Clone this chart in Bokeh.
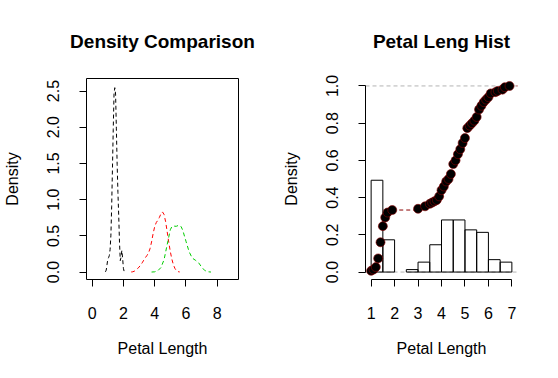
import math
from bokeh.plotting import figure
from bokeh.layouts import row
from bokeh.models import Range1d, FixedTicker, Span
from bokeh.embed import file_html
from bokeh.resources import INLINE

FONT = "Liberation Sans"

# ---- Left panel: density curves of Petal Length by species
setosa_x = [0.85, 0.90, 0.95, 1.00, 1.05, 1.10, 1.15, 1.20, 1.25, 1.30, 1.35, 1.40, 1.45,
            1.50, 1.55, 1.60, 1.65, 1.70, 1.75, 1.80, 1.85, 1.90, 1.95, 2.00, 2.05]
setosa_y = [0.003, 0.026, 0.099, 0.175, 0.199, 0.228, 0.313, 0.509, 0.909, 1.436, 1.971, 2.458, 2.546,
            2.458, 1.977, 1.488, 1.098, 0.780, 0.412, 0.158, 0.205, 0.298, 0.193, 0.052, 0.006]

versicolor_x = [2.5, 2.6, 2.7, 2.8, 2.9, 3.0, 3.1, 3.2, 3.3, 3.4, 3.5, 3.6, 3.7, 3.8, 3.9, 4.0,
                4.1, 4.2, 4.3, 4.4, 4.5, 4.6, 4.7, 4.8, 4.9, 5.0, 5.1, 5.2, 5.3, 5.4, 5.5, 5.6]
versicolor_y = [0.001, 0.004, 0.012, 0.026, 0.046, 0.069, 0.095, 0.127, 0.164, 0.198, 0.227, 0.262,
                0.321, 0.416, 0.531, 0.627, 0.683, 0.715, 0.754, 0.804, 0.830, 0.795, 0.695, 0.556,
                0.411, 0.282, 0.177, 0.099, 0.047, 0.018, 0.006, 0.001]

virginica_x = [3.8, 4.0, 4.2, 4.4, 4.6, 4.8, 5.0, 5.1, 5.2, 5.3, 5.4, 5.5, 5.6, 5.7, 5.8,
               6.0, 6.2, 6.4, 6.6, 6.8, 7.0, 7.2, 7.4, 7.6]
virginica_y = [0.0003, 0.003, 0.018, 0.062, 0.171, 0.380, 0.584, 0.628, 0.638, 0.632, 0.633, 0.643,
               0.646, 0.624, 0.574, 0.426, 0.282, 0.193, 0.164, 0.131, 0.070, 0.022, 0.004, 0.0003]

left_xticks = [0, 2, 4, 6, 8]
left_yticks = [0.0, 0.5, 1.0, 1.5, 2.0, 2.5]
left_ytick_labels = ["0.0", "0.5", "1.0", "1.5", "2.0", "2.5"]

# ---- Right panel: histogram (density) + empirical CDF
hist_left = [1.0, 1.5, 2.0, 2.5, 3.0, 3.5, 4.0, 4.5, 5.0, 5.5, 6.0, 6.5]
hist_right = [1.5, 2.0, 2.5, 3.0, 3.5, 4.0, 4.5, 5.0, 5.5, 6.0, 6.5, 7.0]
hist_density = [0.4933, 0.1733, 0.0, 0.0133, 0.0533, 0.1467, 0.28, 0.28, 0.2267, 0.2133, 0.0667, 0.0533]

ecdf_x = [1.0, 1.1, 1.2, 1.3, 1.4, 1.5, 1.6, 1.7, 1.9, 3.0, 3.3, 3.5, 3.6, 3.7, 3.8, 3.9, 4.0,
          4.1, 4.2, 4.3, 4.4, 4.5, 4.6, 4.7, 4.8, 4.9, 5.0, 5.1, 5.2, 5.3, 5.4, 5.5, 5.6, 5.7,
          5.8, 5.9, 6.0, 6.1, 6.3, 6.4, 6.6, 6.7, 6.9]
ecdf_y = [0.0067, 0.0133, 0.0267, 0.0733, 0.16, 0.2467, 0.2933, 0.32, 0.3333, 0.34, 0.3533,
          0.3667, 0.3733, 0.38, 0.3867, 0.4067, 0.44, 0.46, 0.4867, 0.5, 0.5267, 0.58, 0.6,
          0.6333, 0.66, 0.6933, 0.72, 0.7733, 0.7867, 0.8, 0.8133, 0.8333, 0.8733, 0.8933,
          0.9133, 0.9267, 0.94, 0.96, 0.9667, 0.9733, 0.98, 0.9933, 1.0]

right_xticks = [1, 2, 3, 4, 5, 6, 7]
right_yticks = [0.0, 0.2, 0.4, 0.6, 0.8, 1.0]
right_ytick_labels = ["0.0", "0.2", "0.4", "0.6", "0.8", "1.0"]

W, H = 279, 375
DASH = "4 3"


def base_fig(title, xr, yr):
    p = figure(width=W, height=H, output_backend="svg", toolbar_location=None,
               x_range=Range1d(*xr), y_range=Range1d(*yr),
               min_border_left=79, min_border_right=41,
               min_border_top=78, min_border_bottom=H - 279)
    p.title.text = title
    p.title.align = "center"
    p.title.text_font = FONT
    p.title.text_font_size = "19px"
    p.title.text_font_style = "bold"
    p.title.text_color = "black"
    p.title.standoff = 53
    p.grid.visible = False
    p.background_fill_color = "white"
    p.border_fill_color = "white"
    for ax in (p.xaxis[0], p.yaxis[0]):
        ax.axis_line_color = "black"
        ax.major_tick_line_color = "black"
        ax.minor_tick_line_color = None
        ax.major_tick_out = 7
        ax.major_tick_in = 0
        ax.major_label_text_font = FONT
        ax.major_label_text_font_size = "16px"
        ax.major_label_text_color = "black"
        ax.axis_label_text_font = FONT
        ax.axis_label_text_font_size = "16px"
        ax.axis_label_text_font_style = "normal"
        ax.axis_label_text_color = "black"
    p.xaxis.major_label_standoff = 20
    p.xaxis.axis_label_standoff = 18
    p.yaxis.major_label_standoff = 20
    p.yaxis.axis_label_standoff = 24
    p.yaxis.major_label_orientation = "vertical"
    p.xaxis.axis_label = "Petal Length"
    p.yaxis.axis_label = "Density"
    return p


# Left: density comparison
ymax_left = 2.57
p1 = base_fig("Density Comparison", (-0.36, 9.36), (-0.04 * ymax_left, 1.04 * ymax_left))
p1.xaxis.ticker = FixedTicker(ticks=left_xticks)
p1.yaxis.ticker = FixedTicker(ticks=left_yticks)
p1.yaxis.major_label_overrides = dict(zip(left_yticks, left_ytick_labels))
p1.xaxis.bounds = (left_xticks[0], left_xticks[-1])
p1.yaxis.bounds = (left_yticks[0], left_yticks[-1])
p1.outline_line_color = "black"
p1.outline_line_width = 1
p1.line(setosa_x, setosa_y, line_color="black", line_dash=DASH, line_width=1)
p1.line(versicolor_x, versicolor_y, line_color="red", line_dash=DASH, line_width=1)
p1.line(virginica_x, virginica_y, line_color="#00CD00", line_dash=DASH, line_width=1)

# Right: histogram + ECDF
p2 = base_fig("Petal Leng Hist", (0.76, 7.24), (-0.04, 1.04))
p2.xaxis.ticker = FixedTicker(ticks=right_xticks)
p2.yaxis.ticker = FixedTicker(ticks=right_yticks)
p2.yaxis.major_label_overrides = dict(zip(right_yticks, right_ytick_labels))
p2.xaxis.bounds = (right_xticks[0], right_xticks[-1])
p2.yaxis.bounds = (right_yticks[0], right_yticks[-1])
p2.outline_line_color = None

for yv in (0, 1):
    p2.add_layout(Span(location=yv, dimension="width", line_color="#B3B3B3",
                       line_dash=DASH, line_width=1, level="underlay"))

bars = [(l, r, d) for l, r, d in zip(hist_left, hist_right, hist_density) if d > 0]
p2.quad(left=[b[0] for b in bars], right=[b[1] for b in bars],
        bottom=0, top=[b[2] for b in bars],
        fill_color=None, line_color="black", line_width=1)

p2.segment(x0=ecdf_x[:-1], x1=ecdf_x[1:], y0=ecdf_y[:-1], y1=ecdf_y[:-1],
           line_color="darkred", line_dash=DASH, line_width=1)
p2.ray(x=[ecdf_x[-1]], y=[ecdf_y[-1]], length=0, angle=0,
       line_color="darkred", line_dash=DASH, line_width=1)
p2.ray(x=[ecdf_x[0]], y=[0], length=0, angle=math.pi,
       line_color="darkred", line_dash=DASH, line_width=1)
p2.scatter(ecdf_x, ecdf_y, size=9, fill_color="black", line_color="darkred", line_width=0.6)

layout = row(p1, p2, spacing=0)
open("out.html", "w").write(file_html(layout, INLINE))
